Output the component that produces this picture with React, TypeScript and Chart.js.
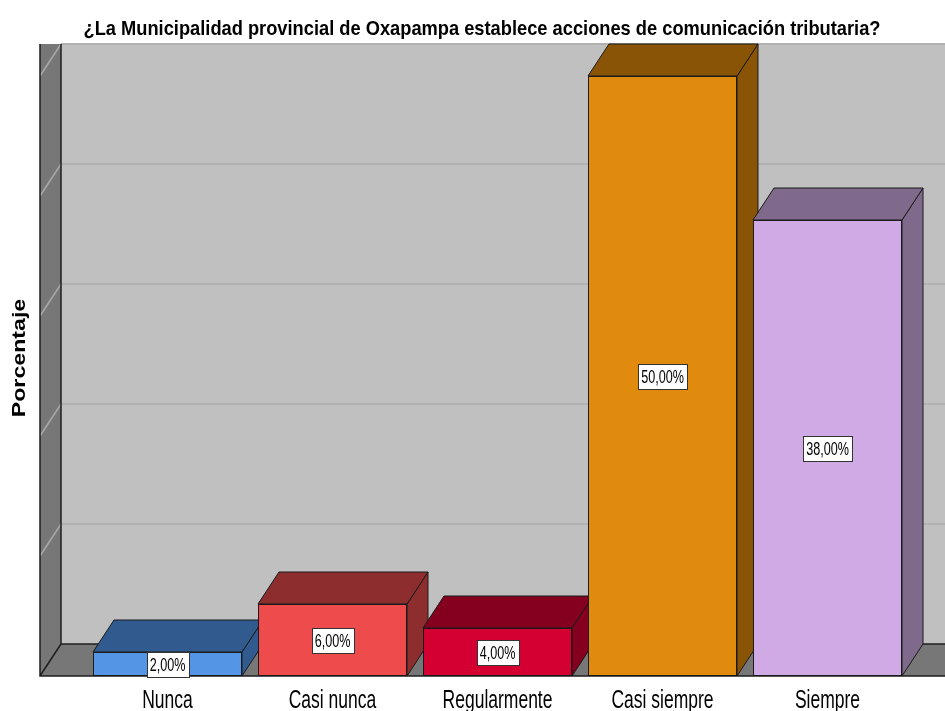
import React, { useEffect, useRef } from "react";
import { Chart, registerables } from "chart.js";

Chart.register(...registerables);

const titleText = "¿La Municipalidad provincial de Oxapampa establece acciones de comunicación tributaria?";
const axisTitle = "Porcentaje";
const categories = ["Nunca", "Casi nunca", "Regularmente", "Casi siempre", "Siempre"];
const percentages = [2, 6, 4, 50, 38];
const yTickValues = [0, 10, 20, 30, 40, 50];

const frontColors = ["#5595e5", "#ee4b4c", "#d50032", "#e08a0e", "#d0aae5"];
const depthColors = ["#315b8f", "#8e2d2e", "#85001f", "#8a5407", "#7f6a8c"];

const FONT = '"Liberation Sans", Arial, sans-serif';
const DX = 21;
const DY = -32;
const FLOOR_INSET = 45;

function fmt(v: number) {
  return v.toFixed(2).replace(".", ",") + "%";
}

function scaledText(ctx: CanvasRenderingContext2D, text: string, x: number, y: number, font: string, sx: number, rot = 0) {
  ctx.save();
  ctx.translate(x, y);
  if (rot) ctx.rotate(rot);
  ctx.scale(sx, 1);
  ctx.font = font;
  ctx.textAlign = "center";
  ctx.textBaseline = "alphabetic";
  ctx.fillStyle = "#000";
  ctx.fillText(text, 0, 0);
  ctx.restore();
}

function poly(ctx: CanvasRenderingContext2D, pts: number[][], fill: string, stroke?: string, lw = 1) {
  ctx.beginPath();
  ctx.moveTo(pts[0][0], pts[0][1]);
  for (let i = 1; i < pts.length; i++) ctx.lineTo(pts[i][0], pts[i][1]);
  ctx.closePath();
  ctx.fillStyle = fill;
  ctx.fill();
  if (stroke) {
    ctx.strokeStyle = stroke;
    ctx.lineWidth = lw;
    ctx.stroke();
  }
}

const frame3d = {
  id: "frame3d",
  beforeDraw(chart: any) {
    const { ctx, chartArea: ca, width, height } = chart;
    const y = chart.scales.y;
    ctx.save();
    ctx.fillStyle = "#fff";
    ctx.fillRect(0, 0, width, height);
    const floorLeft = ca.left - FLOOR_INSET;
    const backLeft = floorLeft + DX;
    const backTop = ca.top + DY;
    const backBottom = ca.bottom + DY;
    ctx.fillStyle = "#c0c0c0";
    ctx.fillRect(backLeft, backTop, width - backLeft, backBottom - backTop);
    ctx.strokeStyle = "#b1b1b1";
    ctx.lineWidth = 2;
    for (const v of yTickValues) {
      if (v === 0) continue;
      const yy = y.getPixelForValue(v) + DY;
      ctx.beginPath();
      ctx.moveTo(backLeft, yy);
      ctx.lineTo(width, yy);
      ctx.stroke();
    }
    poly(ctx, [[floorLeft, backTop], [backLeft, backTop], [backLeft, backBottom], [floorLeft, ca.bottom]], "#777777");
    ctx.strokeStyle = "#a8a8a8";
    ctx.lineWidth = 1.5;
    for (const v of yTickValues) {
      if (v === 0) continue;
      const yy = y.getPixelForValue(v) + DY;
      ctx.beginPath();
      ctx.moveTo(backLeft, yy);
      ctx.lineTo(floorLeft, yy - DY);
      ctx.stroke();
    }
    poly(ctx, [[floorLeft, ca.bottom], [backLeft, backBottom], [width, backBottom], [width, ca.bottom]], "#777777");
    ctx.strokeStyle = "#1e1e1e";
    ctx.lineWidth = 1.5;
    ctx.beginPath();
    ctx.moveTo(floorLeft, backTop);
    ctx.lineTo(floorLeft, ca.bottom);
    ctx.lineTo(width, ca.bottom);
    ctx.moveTo(backLeft, backTop);
    ctx.lineTo(backLeft, backBottom);
    ctx.lineTo(width, backBottom);
    ctx.moveTo(floorLeft, ca.bottom);
    ctx.lineTo(backLeft, backBottom);
    ctx.stroke();
    ctx.restore();
  },
  beforeDatasetsDraw(chart: any) {
    const { ctx } = chart;
    const meta = chart.getDatasetMeta(0);
    ctx.save();
    meta.data.forEach((el: any, i: number) => {
      const p = el.getProps(["x", "y", "base", "width"], true);
      const L = p.x - p.width / 2;
      const R = p.x + p.width / 2;
      const top = p.y;
      const base = p.base;
      poly(ctx, [[R, top], [R + DX, top + DY], [R + DX, base + DY], [R, base]], depthColors[i], "#1a1a1a", 1);
      poly(ctx, [[L, top], [L + DX, top + DY], [R + DX, top + DY], [R, top]], depthColors[i], "#1a1a1a", 1);
    });
    ctx.restore();
  },
  afterDatasetsDraw(chart: any) {
    const { ctx } = chart;
    const meta = chart.getDatasetMeta(0);
    ctx.save();
    meta.data.forEach((el: any, i: number) => {
      const p = el.getProps(["x", "y", "base"], true);
      const cy = (p.y + p.base) / 2;
      const txt = fmt(percentages[i]);
      const font = `18px ${FONT}`;
      const sx = 0.7;
      ctx.font = font;
      const w = ctx.measureText(txt).width * sx + 6;
      const h = 25;
      ctx.fillStyle = "#fff";
      ctx.fillRect(Math.round(p.x - w / 2) + 0.5, Math.round(cy - h / 2) + 0.5, Math.round(w), h);
      ctx.strokeStyle = "#333";
      ctx.lineWidth = 1;
      ctx.strokeRect(Math.round(p.x - w / 2) + 0.5, Math.round(cy - h / 2) + 0.5, Math.round(w), h);
      scaledText(ctx, txt, p.x, cy + 7, font, sx);
    });
    ctx.restore();
  },
  afterDraw(chart: any) {
    const { ctx } = chart;
    const x = chart.scales.x;
    scaledText(ctx, titleText, 482, 35, `bold 21px ${FONT}`, 0.87);
    categories.forEach((c, i) => {
      scaledText(ctx, c, x.getPixelForValue(i), 708, `25px ${FONT}`, 0.7);
    });
    scaledText(ctx, axisTitle, 25, 358, `bold 19px ${FONT}`, 1.22, -Math.PI / 2);
  },
};

export default function App() {
  const ref = useRef<HTMLCanvasElement>(null);
  useEffect(() => {
    if (!ref.current) return;
    const chart = new Chart(ref.current, {
      type: "bar",
      data: {
        labels: categories,
        datasets: [
          {
            data: percentages,
            backgroundColor: frontColors,
            borderColor: "#1a1a1a",
            borderWidth: 1,
            borderSkipped: false,
            categoryPercentage: 1,
            barPercentage: 149 / 165,
          },
        ],
      },
      options: {
        responsive: false,
        animation: false,
        events: [],
        layout: { padding: { left: 85, right: 35, top: 76, bottom: 35 } },
        plugins: { legend: { display: false }, title: { display: false }, tooltip: { enabled: false } },
        scales: {
          x: { display: false, offset: true },
          y: { display: false, min: 0, max: 50 },
        },
      },
      plugins: [frame3d],
    });
    return () => chart.destroy();
  }, []);
  return (
    <div style={{ position: "absolute", left: 0, top: 0, width: 945, height: 711, overflow: "hidden" }}>
      <canvas ref={ref} width={945} height={711} style={{ display: "block" }} />
    </div>
  );
}
